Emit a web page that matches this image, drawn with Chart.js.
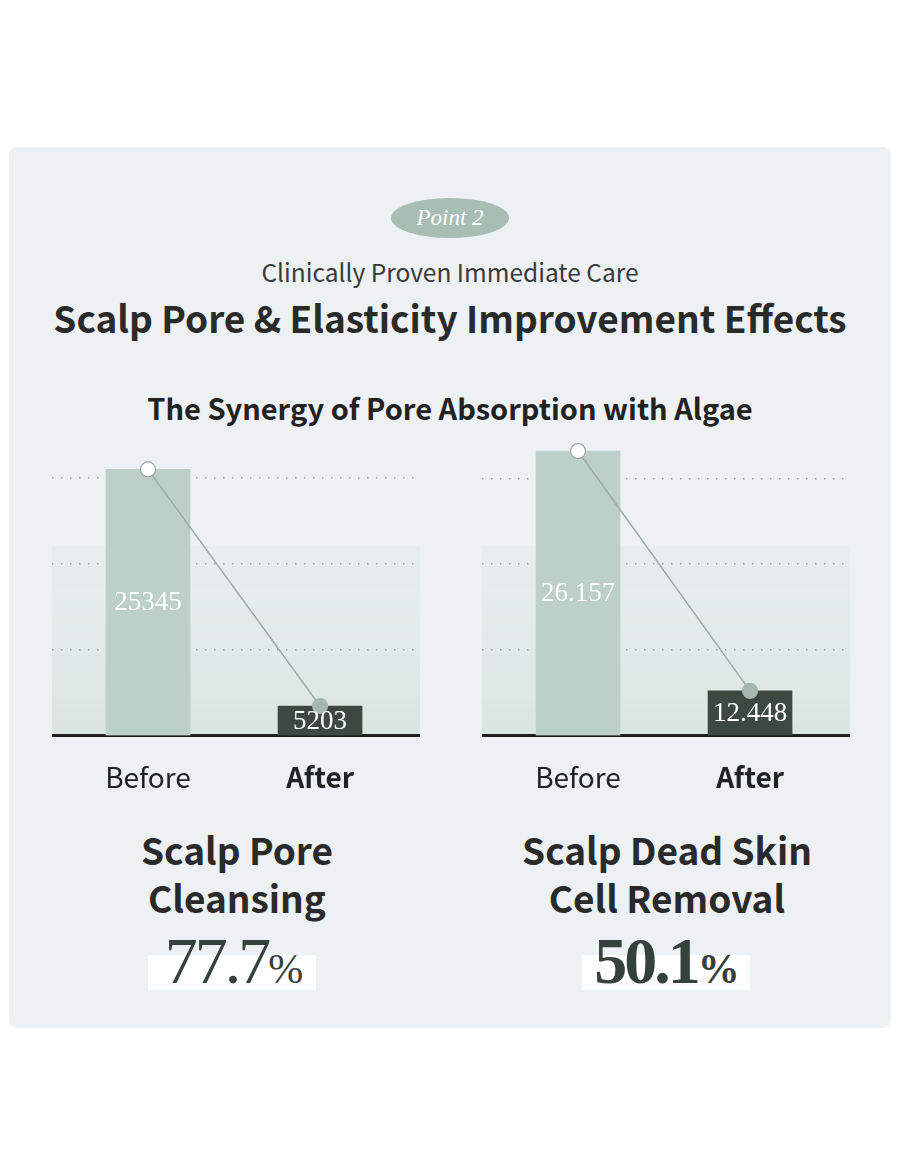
<!DOCTYPE html>
<html>
<head>
<meta charset="utf-8">
<script src="https://cdn.jsdelivr.net/npm/chart.js@4.4.1/dist/chart.umd.min.js"></script>
<style>
  html, body { margin: 0; padding: 0; background: #ffffff; }
  body { width: 900px; height: 1176px; position: relative; overflow: hidden; font-family: "Noto Sans CJK KR", "Noto Sans", sans-serif; }
  .panel { position: absolute; left: 9px; top: 147px; width: 882px; height: 881px; background: #edf1f3; border-radius: 8px; }
  .abs { position: absolute; text-align: center; white-space: nowrap; }
  .pill { left: 391px; top: 198px; width: 118px; height: 40px; border-radius: 50%; background: #a8bdb4;
          color: #fff; font: italic 23px/40px "Liberation Serif", serif; }
  .sub { left: 0; width: 900px; top: 256px; font-size: 24.5px; line-height: 32px; color: #3a3a3a; }
  .title { left: 0; width: 900px; top: 294px; font-size: 37px; line-height: 46px; font-weight: 700; color: #2a2a2a; }
  .ctitle { left: 0; width: 900px; top: 388px; font-size: 29px; line-height: 38px; font-weight: 700; color: #222; }
  .head { width: 300px; top: 825px; font-size: 37px; line-height: 48px; font-weight: 700; color: #2a2a2a; }
  .hl { top: 955px; width: 168px; height: 35px; background: #fff; }
  .pct { width: 300px; top: 928px; font-family: "Liberation Serif", serif; font-size: 66px; line-height: 66px; color: #35413b; letter-spacing: -3px; }
  .pct small { font-size: 42px; letter-spacing: 0; }
  canvas { position: absolute; }
</style>
</head>
<body>
<div class="panel"></div>
<div class="abs pill">Point 2</div>
<div class="abs sub">Clinically Proven Immediate Care</div>
<div class="abs title">Scalp Pore &amp; Elasticity Improvement Effects</div>
<div class="abs ctitle">The Synergy of Pore Absorption with Algae</div>

<canvas id="poreChart" width="368" height="389" style="left:52px; top:430px;"></canvas>
<canvas id="skinChart" width="368" height="389" style="left:482px; top:430px;"></canvas>

<div class="abs head" style="left:87px;">Scalp Pore<br>Cleansing</div>
<div class="abs head" style="left:517px;">Scalp Dead Skin<br>Cell Removal</div>
<div class="abs hl" style="left:148px;"></div>
<div class="abs hl" style="left:582px;"></div>
<div class="abs pct" style="left:84px;">77.7<small>%</small></div>
<div class="abs pct" style="left:517px; font-weight:700;">50.1<small>%</small></div>

<script>
// chart data
const categories = ["Before", "After"];

const poreValues = [25345, 5203];
const poreDecimals = 0;
const poreRange = [2700, 28700];          // hidden y axis, not zero based
const poreGrid = [10000, 17300, 24600];   // dotted guide lines

const skinValues = [26.157, 12.448];
const skinDecimals = 3;
const skinRange = [9.9, 27.36];
const skinGrid = [14.8, 19.7, 24.6];

const barColors = ["#bccfc9", "#3c4840"];

Chart.defaults.font.family = '"Noto Sans CJK KR", "Noto Sans", sans-serif';

// soft teal band behind the lower part of the plot
const bandPlugin = {
  id: "band",
  beforeDraw(chart) {
    const { ctx, chartArea: a } = chart;
    const y0 = a.top + (a.bottom - a.top) * 0.38;
    const g = ctx.createLinearGradient(0, y0, 0, a.bottom);
    g.addColorStop(0, "rgba(228,235,234,0.6)");
    g.addColorStop(1, "rgba(217,229,225,1)");
    ctx.save();
    ctx.fillStyle = g;
    ctx.fillRect(a.left, y0, a.right - a.left, a.bottom - y0);
    ctx.restore();
  }
};

// numbers written inside the bars
const valueLabels = {
  id: "valueLabels",
  afterDatasetsDraw(chart, args, opts) {
    const meta = chart.getDatasetMeta(0);
    const ctx = chart.ctx;
    ctx.save();
    ctx.font = '27px "Liberation Serif", serif';
    ctx.fillStyle = "#ffffff";
    ctx.textAlign = "center";
    ctx.textBaseline = "middle";
    meta.data.forEach((bar, i) => {
      const v = chart.data.datasets[0].data[i].y;
      ctx.fillText(v.toFixed(opts.decimals), bar.x, (bar.y + bar.base) / 2 + 1);
    });
    ctx.restore();
  }
};

function makeChart(id, values, decimals, range, grid) {
  const points = values.map((v, i) => ({ x: i, y: v }));
  return new Chart(document.getElementById(id), {
    data: {
      datasets: [
        {
          type: "bar",
          data: points,
          backgroundColor: barColors,
          barThickness: 84,
          base: range[0],
          borderWidth: 0,
          order: 1
        },
        {
          type: "line",
          data: points,
          borderColor: "#9eaaa6",
          borderWidth: 1.5,
          pointRadius: 7.5,
          pointBackgroundColor: ["#ffffff", "#a6b6b0"],
          pointBorderColor: ["#9ba6a2", "#a6b6b0"],
          pointBorderWidth: 1.2,
          order: 0
        }
      ]
    },
    options: {
      responsive: false,
      animation: false,
      layout: { padding: 0, autoPadding: false },
      plugins: {
        legend: { display: false },
        tooltip: { enabled: false },
        valueLabels: { decimals: decimals }
      },
      scales: {
        x: {
          type: "linear",
          min: -0.558,
          max: 1.581,
          offset: false,
          z: 1,
          grid: { display: false, drawTicks: false },
          border: { display: true, color: "#1c211e", width: 3 },
          afterBuildTicks: (scale) => {
            scale.ticks = categories.map((c, i) => ({ value: i }));
          },
          ticks: {
            padding: 25,
            color: "#222222",
            callback: (v) => categories[v],
            font: (c) => ({ size: 28, weight: c.index === 1 ? "700" : "400" })
          }
        },
        y: {
          min: range[0],
          max: range[1],
          afterBuildTicks: (scale) => {
            scale.ticks = grid.map((v) => ({ value: v }));
          },
          ticks: { display: false },
          grid: { drawTicks: false, color: "#9aa3a2", lineWidth: 1.5 },
          border: { display: false, dash: [1.5, 7.5] }
        }
      }
    },
    plugins: [bandPlugin, valueLabels]
  });
}

makeChart("poreChart", poreValues, poreDecimals, poreRange, poreGrid);
makeChart("skinChart", skinValues, skinDecimals, skinRange, skinGrid);
</script>
</body>
</html>
